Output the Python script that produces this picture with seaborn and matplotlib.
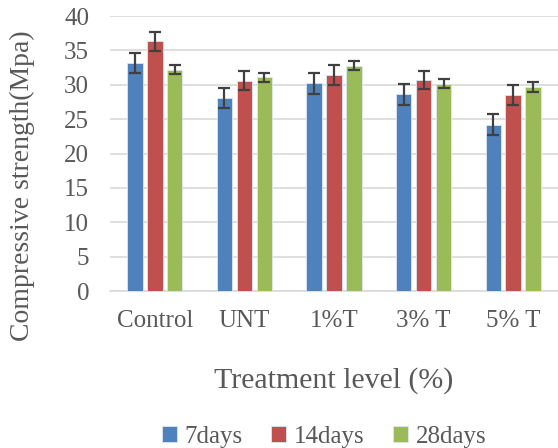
import matplotlib
matplotlib.use("Agg")
import matplotlib.pyplot as plt
import seaborn as sns
import pandas as pd
import numpy as np

categories = ["Control", "UNT", "1%T", "3% T", "5% T"]
series = ["7days", "14days", "28days"]
days7 = [33.2, 28.1, 30.2, 28.6, 24.2]
days14 = [36.3, 30.6, 31.4, 30.7, 28.5]
days28 = [32.2, 31.1, 32.8, 30.15, 29.7]
err7 = [1.45, 1.45, 1.5, 1.5, 1.5]
err14 = [1.4, 1.35, 1.5, 1.35, 1.4]
err28 = [0.65, 0.65, 0.7, 0.65, 0.7]
colors = ["#4F81BD", "#C0504D", "#9BBB59"]

rows = []
for s, vals, errs in zip(series, [days7, days14, days28], [err7, err14, err28]):
    for c, v, e in zip(categories, vals, errs):
        rows.append({"cat": c, "series": s, "val": v, "err": e})
df = pd.DataFrame(rows)

sns.set_theme(style="white")
plt.rcParams["font.family"] = ["Liberation Serif", "DejaVu Serif"]
txt = "#595959"

fig = plt.figure(figsize=(5.58, 4.48), dpi=100)
ax = fig.add_axes([110 / 558, 1 - 291 / 448, 448 / 558, 275 / 448])

sns.barplot(data=df, x="cat", y="val", hue="series", order=categories,
            hue_order=series, palette=colors, saturation=1, errorbar=None,
            width=0.667, gap=0.22, edgecolor="#DCE6F2", linewidth=0.6,
            ax=ax, zorder=3)

# error bars placed on bar centers
for cont, s in zip(ax.containers, series):
    sub = df[df["series"] == s].set_index("cat").loc[categories]
    xs = [p.get_x() + p.get_width() / 2 for p in cont.patches]
    ax.errorbar(xs, sub["val"].values, yerr=sub["err"].values, fmt="none",
                ecolor="#404040", elinewidth=1.6, capsize=4.5, capthick=1.6,
                zorder=4)

ax.set_ylim(0, 40)
ax.set_yticks(range(0, 41, 5))
ax.set_xlim(-0.5, 4.5)
ax.yaxis.grid(True, color="#D9D9D9", linewidth=1.2, zorder=0)
ax.set_axisbelow(True)
for sp in ["top", "right", "left"]:
    ax.spines[sp].set_visible(False)
ax.spines["bottom"].set_color("#D9D9D9")
ax.spines["bottom"].set_linewidth(1.2)
ax.tick_params(axis="both", length=0, labelsize=18, colors=txt)
ax.tick_params(axis="y", pad=15)
ax.tick_params(axis="x", pad=14)

ax.set_xlabel("Treatment level (%)", fontsize=21.5, color=txt)
ax.xaxis.set_label_coords(0.5, (291 - 381) / 275)
ax.xaxis.label.set_va("center")
ax.set_ylabel("Compressive strength(Mpa)", fontsize=20, color=txt)
ax.yaxis.set_label_coords((22 - 110) / 448, (291 - 186) / 275)
ax.yaxis.label.set_va("center")

handles, labels = ax.get_legend_handles_labels()
ax.legend(handles, labels, loc="center", bbox_to_anchor=(324 / 558, 1 - 437 / 448),
          bbox_transform=fig.transFigure, ncol=3, frameon=False, fontsize=18,
          handlelength=0.6, handleheight=0.6, handletextpad=0.3, columnspacing=1.15,
          labelcolor=txt)

fig.savefig("out.png", dpi=100)
